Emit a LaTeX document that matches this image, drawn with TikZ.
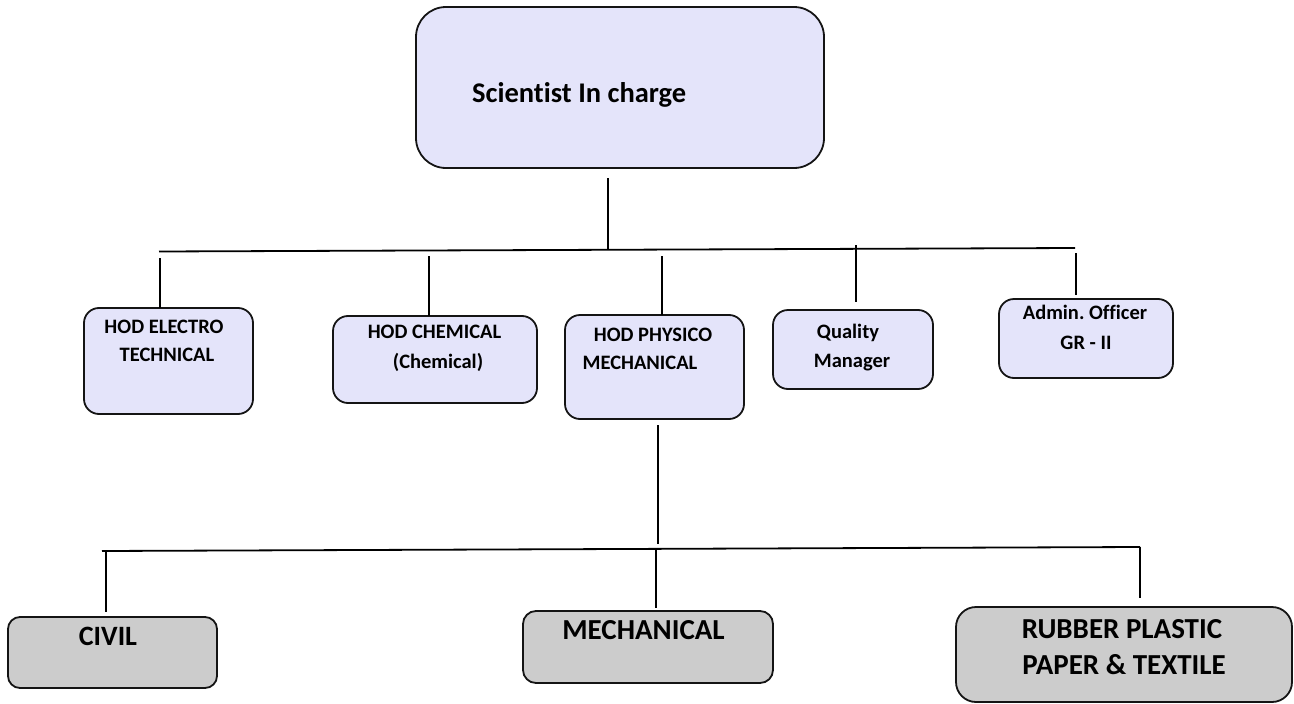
\documentclass[tikz,border=0pt]{standalone}
\usepackage{fontspec}
\setmainfont{Carlito}[Ligatures={NoCommon}]
\frenchspacing
\definecolor{lav}{RGB}{228,228,250}
\definecolor{grayfill}{RGB}{204,204,204}
\definecolor{edge}{RGB}{20,20,20}
\begin{document}
\begin{tikzpicture}[x=1pt,y=-1pt,
  box/.style={draw=edge, line width=1.8pt, rectangle, rounded corners=#1, inner sep=0pt, outer sep=0pt, anchor=north west},
  box/.default=15pt,
  lbox/.style={box=#1, fill=lav},
  lbox/.default=15pt,
  gbox/.style={box=#1, fill=grayfill},
  gbox/.default=13pt,
  conn/.style={draw=black, line width=1.8pt},
  txtS/.style={font=\fontsize{20.5}{24}\selectfont\bfseries, inner sep=0pt, anchor=base},
  txtL/.style={font=\fontsize{29}{34}\selectfont\bfseries, inner sep=0pt, anchor=base},
]
\useasboundingbox (0,0) rectangle (1294,704);

% boxes
\node[lbox=30pt, minimum width=408pt, minimum height=161pt] (top) at (416,7) {};
\node[lbox, minimum width=169pt, minimum height=106pt] (elec) at (84,308) {};
\node[lbox, minimum width=204pt, minimum height=87pt] (chem) at (333,316) {};
\node[lbox, minimum width=179pt, minimum height=104pt] (phys) at (565,315) {};
\node[lbox, minimum width=160pt, minimum height=79pt] (qual) at (773,310) {};
\node[lbox, minimum width=174pt, minimum height=79pt] (admin) at (999,299) {};
\node[gbox=12pt, minimum width=209pt, minimum height=71pt] (civil) at (8,617) {};
\node[gbox, minimum width=250pt, minimum height=72pt] (mech) at (523,611) {};
\node[gbox=20pt, minimum width=336pt, minimum height=95pt] (rubber) at (956,607) {};

% texts
\node[font=\fontsize{28.5}{34}\selectfont\bfseries, inner sep=0pt, anchor=base west] (tTop) at (472,102) {Scientist In charge};
\node[txtS] (tElec1) at (164,333.5) {HOD ELECTRO};
\node[txtS] (tElec2) at (167,361.5) {TECHNICAL};
\node[txtS] (tChem1) at (434.5,338.5) {HOD CHEMICAL};
\node[txtS] (tChem2) at (438,368) {(Chemical)};
\node[txtS] (tPhys1) at (653,341.5) {HOD PHYSICO};
\node[txtS] (tPhys2) at (640,369.5) {MECHANICAL};
\node[txtS] (tQual1) at (848,338) {Quality};
\node[txtS] (tQual2) at (852,367) {Manager};
\node[txtS] (tAdm1) at (1085,319) {Admin. Officer};
\node[txtS] (tAdm2) at (1086,349) {GR - II};
\node[txtL, font=\fontsize{28}{34}\selectfont\bfseries] (tCivil) at (108,645) {CIVIL};
\node[txtL] (tMech) at (643.5,639) {MECHANICAL};
\node[txtL] (tRub1) at (1122,638) {RUBBER PLASTIC};
\node[txtL] (tRub2) at (1124,674) {PAPER \& TEXTILE};

% upper bus
\coordinate (busL) at (159,251.5);
\coordinate (busR) at (1075,248);
\coordinate (busTop) at (608,250);
\draw[conn] (busL) -- (busR);
\draw[conn] ([yshift=-10pt]top.south -| busTop) -- (busTop);

\coordinate (eTop) at (160,258);
\coordinate (cTop) at (429,256);
\coordinate (pTop) at (662,256);
\coordinate (qTop) at (856,245);
\coordinate (aTop) at (1076,253);
\draw[conn] (eTop) -- (eTop |- elec.north);
\draw[conn] (cTop) -- (cTop |- chem.north);
\draw[conn] (pTop) -- (pTop |- phys.north);
\draw[conn] (qTop) -- ([yshift=8pt]qTop |- qual.north);
\draw[conn] (aTop) -- ([yshift=4pt]aTop |- admin.north);

% lower bus
\coordinate (lowL) at (102,551);
\coordinate (lowR) at (1140,547);
\coordinate (pLow) at (658,544);
\draw[conn] (lowL) -- (lowR);
\draw[conn] ([yshift=-6pt]phys.south -| pLow) -- (pLow);

\coordinate (cvTop) at (106,551);
\coordinate (mTop) at (656,550);
\coordinate (rTop) at (1140,547);
\draw[conn] (cvTop) -- ([yshift=5pt]cvTop |- civil.north);
\draw[conn] (mTop) -- ([yshift=3pt]mTop |- mech.north);
\draw[conn] (rTop) -- ([yshift=9pt]rTop |- rubber.north);
\end{tikzpicture}
\end{document}
